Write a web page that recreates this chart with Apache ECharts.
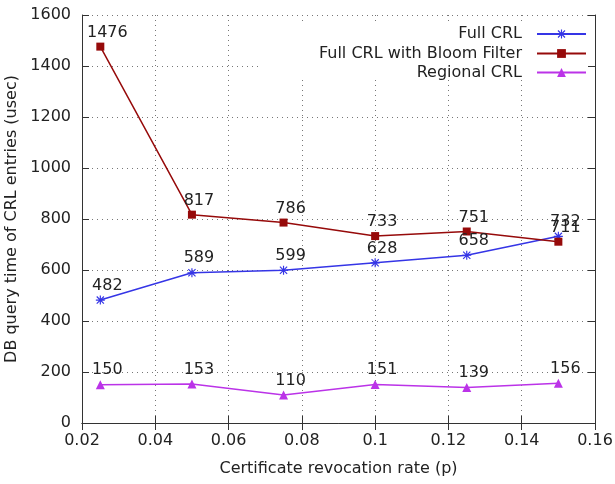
<!DOCTYPE html>
<html><head><meta charset="utf-8">
<script src="https://cdn.jsdelivr.net/npm/echarts@6/dist/echarts.min.js"></script>
<style>html,body{margin:0;padding:0;background:#fff}#c{width:615px;height:484px}</style>
</head><body><div id="c"></div>
<script>
const revocationRates = [0.025, 0.05, 0.075, 0.1, 0.125, 0.15];
const fullCrl = [482, 589, 599, 628, 658, 732];
const fullCrlBloom = [1476, 817, 786, 733, 751, 711];
const regionalCrl = [150, 153, 110, 151, 139, 156];
const seriesNames = ['Full CRL', 'Full CRL with Bloom Filter', 'Regional CRL'];
const xAxisName = 'Certificate revocation rate (p)';
const yAxisName = 'DB query time of CRL entries (usec)';

const FONT = 'DejaVu Sans';
const asterisk = 'path://M0 8.7L20 8.7L20 11.3L0 11.3Z M8.7 0L11.3 0L11.3 20L8.7 20Z M2.92 1.08L18.92 17.08L17.08 18.92L1.08 2.92Z M1.08 17.08L17.08 1.08L18.92 2.92L2.92 18.92Z';

function pairs(ys) { return revocationRates.map((x, i) => [x, ys[i]]); }

function mkSeries(name, ys, color, symbol, size) {
  return {
    type: 'line', name: name, data: pairs(ys),
    symbol: symbol, symbolSize: size,
    lineStyle: { width: 1.5, color: color },
    itemStyle: { color: color },
    label: {
      show: true, position: 'top', distance: 2, offset: [7, 0],
      fontSize: 16, color: '#222', fontFamily: FONT,
      formatter: p => String(p.value[1])
    },
    z: 5
  };
}

function mkLegend(name, top) {
  return {
    data: [name], right: 28, top: top, padding: 0,
    itemWidth: 49, itemHeight: 11, orient: 'vertical', align: 'right',
    selectedMode: false,
    textStyle: { fontSize: 16, color: '#222', fontFamily: FONT, padding: [0, 10, 0, 0] }
  };
}

const axisLineStyle = { color: '#333', width: 1 };
const chart = echarts.init(document.getElementById('c'), null, { renderer: 'canvas' });
chart.setOption({
  animation: false,
  backgroundColor: '#fff',
  grid: { left: 82, right: 20, top: 15, bottom: 61, containLabel: false, outerBoundsMode: 'none' },
  legend: [
    mkLegend(seriesNames[0], 26),
    mkLegend(seriesNames[1], 45.5),
    mkLegend(seriesNames[2], 64.5)
  ],
  graphic: {
    z: 1,
    elements: [{ type: 'rect', left: 262, top: 23, z: 1, shape: { width: 330, height: 57 }, style: { fill: '#fff' } }]
  },
  xAxis: [
    {
      type: 'value', min: 0.02, max: 0.16, interval: 0.02, position: 'bottom',
      axisLine: { show: true, lineStyle: axisLineStyle },
      axisTick: { show: true, inside: true, length: 7, lineStyle: axisLineStyle },
      axisLabel: { margin: 10, fontSize: 16, color: '#222', fontFamily: FONT, formatter: v => String(v) },
      splitLine: { show: true, lineStyle: { type: [1, 4], color: '#777', width: 1 } },
      name: xAxisName, nameLocation: 'middle', nameGap: 38,
      nameTextStyle: { fontSize: 16, color: '#222', fontFamily: FONT }
    },
    {
      type: 'value', min: 0.02, max: 0.16, interval: 0.02, position: 'top', z: 3,
      axisLine: { show: true, lineStyle: axisLineStyle },
      axisTick: { show: true, inside: true, length: 7, lineStyle: axisLineStyle },
      axisLabel: { show: false }, splitLine: { show: false }
    }
  ],
  yAxis: [
    {
      type: 'value', min: 0, max: 1600, interval: 200, position: 'left',
      axisLine: { show: true, lineStyle: axisLineStyle },
      axisTick: { show: true, inside: true, length: 7, lineStyle: axisLineStyle },
      axisLabel: { margin: 11, fontSize: 16, color: '#222', fontFamily: FONT, formatter: v => String(v) },
      splitLine: { show: true, lineStyle: { type: [1, 4], color: '#777', width: 1 } },
      name: yAxisName, nameLocation: 'middle', nameGap: 57,
      nameTextStyle: { fontSize: 16, color: '#222', fontFamily: FONT }
    },
    {
      type: 'value', min: 0, max: 1600, interval: 200, position: 'right', z: 3,
      axisLine: { show: true, lineStyle: axisLineStyle },
      axisTick: { show: true, inside: true, length: 7, lineStyle: axisLineStyle },
      axisLabel: { show: false }, splitLine: { show: false }
    }
  ],
  series: [
    mkSeries(seriesNames[0], fullCrl, '#3535e6', asterisk, 9),
    mkSeries(seriesNames[1], fullCrlBloom, '#960a0a', 'rect', 8),
    mkSeries(seriesNames[2], regionalCrl, '#bb33e8', 'triangle', 9)
  ]
});
</script></body></html>
